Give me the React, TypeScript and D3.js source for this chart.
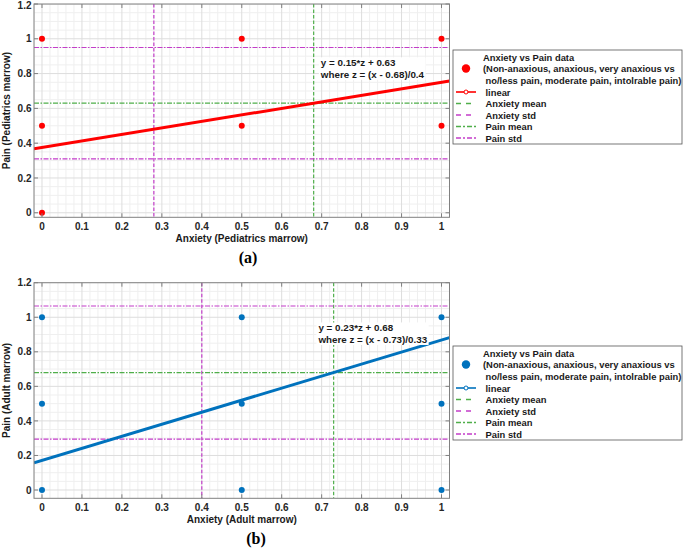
import React, { useEffect, useRef } from "react";
import * as d3 from "d3";

const W = 685;
const H = 550;

// ---- data ----
// (a) pediatrics marrow
const pedAnxiety = [0, 0, 0, 0.5, 0.5, 1, 1];
const pedPain = [1, 0.5, 0, 1, 0.5, 1, 0.5];
const pedSlope = 0.15;
const pedIntercept = 0.63;
const pedAnxMean = 0.68;
const pedAnxStd = 0.4;
const pedPainMean = 0.63;
const pedPainStd = 0.32;

// (b) adult marrow
const adultAnxiety = [0, 0, 0, 0.5, 0.5, 0.5, 1, 1, 1];
const adultPain = [1, 0.5, 0, 1, 0.5, 0, 1, 0.5, 0];
const adultSlope = 0.23;
const adultIntercept = 0.68;
const adultAnxMean = 0.73;
const adultAnxStd = 0.33;
const adultPainMean = 0.68;
const adultPainStd = 0.385;

const xTicks = [0, 0.1, 0.2, 0.3, 0.4, 0.5, 0.6, 0.7, 0.8, 0.9, 1];
const yTicks = [0, 0.2, 0.4, 0.6, 0.8, 1, 1.2];

const legendLabels = [
  "Anxiety vs Pain data",
  "(Non-anaxious, anaxious, very anaxious vs",
  " no/less pain, moderate pain, intolrable pain)",
  "linear",
  "Anxiety mean",
  "Anxiety std",
  "Pain mean",
  "Pain std",
];

const GREEN = "#4fae4a";
const MAGENTA = "#c33dc9";
const FONT = "'Liberation Sans', Arial, Helvetica, sans-serif";

interface PanelSpec {
  id: string;
  top: number;
  bottom: number;
  yMin: number;
  xs: number[];
  ys: number[];
  slope: number;
  intercept: number;
  anxMean: number;
  anxStd: number;
  painMean: number;
  painStd: number;
  color: string;
  xLabel: string;
  yLabel: string;
  tag: string;
  tagX: number;
  legendTop: number;
  noteX: number;
  noteY: number;
}

const panels: PanelSpec[] = [
  {
    id: "a",
    top: 4,
    bottom: 217.3,
    yMin: -0.026,
    xs: pedAnxiety,
    ys: pedPain,
    slope: pedSlope,
    intercept: pedIntercept,
    anxMean: pedAnxMean,
    anxStd: pedAnxStd,
    painMean: pedPainMean,
    painStd: pedPainStd,
    color: "#ff0000",
    xLabel: "Anxiety (Pediatrics marrow)",
    yLabel: "Pain (Pediatrics marrow)",
    tag: "(a)",
    tagX: 248,
    legendTop: 50,
    noteX: 0.698,
    noteY: 0.862,
  },
  {
    id: "b",
    top: 282.7,
    bottom: 498.3,
    yMin: -0.048,
    xs: adultAnxiety,
    ys: adultPain,
    slope: adultSlope,
    intercept: adultIntercept,
    anxMean: adultAnxMean,
    anxStd: adultAnxStd,
    painMean: adultPainMean,
    painStd: adultPainStd,
    color: "#0072bd",
    xLabel: "Anxiety (Adult marrow)",
    yLabel: "Pain (Adult marrow)",
    tag: "(b)",
    tagX: 256,
    legendTop: 346,
    noteX: 0.692,
    noteY: 0.938,
  },
];

const fmt = (v: number) => (v === 0 ? "0" : d3.format("~g")(v));

function drawPanel(root: d3.Selection<SVGSVGElement, unknown, null, undefined>, p: PanelSpec) {
  const left = 34;
  const right = 449.5;
  const x = d3.scaleLinear().domain([-0.02, 1.02]).range([left, right]);
  const y = d3.scaleLinear().domain([p.yMin, 1.2]).range([p.bottom, p.top]);

  const g = root.append("g");
  g.append("defs")
    .append("clipPath")
    .attr("id", `clip-${p.id}`)
    .append("rect")
    .attr("x", left)
    .attr("y", p.top)
    .attr("width", right - left)
    .attr("height", p.bottom - p.top);

  g.append("rect")
    .attr("x", left)
    .attr("y", p.top)
    .attr("width", right - left)
    .attr("height", p.bottom - p.top)
    .attr("fill", "#fff");

  // minor grid
  const minorX = d3.range(-0.02, 1.0201, 0.02).filter((v) => Math.abs((v * 10) % 1) > 0.01 && Math.abs((v * 10) % 1) < 0.99);
  const minorY = d3.range(0, 1.2001, 0.05).filter((v) => Math.abs((v * 5) % 1) > 0.01 && Math.abs((v * 5) % 1) < 0.99);
  const grid = g.append("g").attr("clip-path", `url(#clip-${p.id})`);
  grid.selectAll(".mx").data(minorX).join("line")
    .attr("x1", (d) => x(d)).attr("x2", (d) => x(d))
    .attr("y1", p.top).attr("y2", p.bottom)
    .attr("stroke", "#efefef").attr("stroke-width", 1);
  grid.selectAll(".my").data(minorY).join("line")
    .attr("y1", (d) => y(d)).attr("y2", (d) => y(d))
    .attr("x1", left).attr("x2", right)
    .attr("stroke", "#efefef").attr("stroke-width", 1);
  grid.selectAll(".gx").data(xTicks).join("line")
    .attr("x1", (d) => x(d)).attr("x2", (d) => x(d))
    .attr("y1", p.top).attr("y2", p.bottom)
    .attr("stroke", "#dddddd").attr("stroke-width", 1);
  grid.selectAll(".gy").data(yTicks).join("line")
    .attr("y1", (d) => y(d)).attr("y2", (d) => y(d))
    .attr("x1", left).attr("x2", right)
    .attr("stroke", "#dddddd").attr("stroke-width", 1);

  const plot = g.append("g").attr("clip-path", `url(#clip-${p.id})`);

  // anxiety mean / std (vertical, dashed)
  const vlines = [
    { v: p.anxMean, c: GREEN },
    { v: p.anxMean - p.anxStd, c: MAGENTA },
    { v: p.anxMean + p.anxStd, c: MAGENTA },
  ];
  plot.selectAll(".vl").data(vlines).join("line")
    .attr("x1", (d) => x(d.v)).attr("x2", (d) => x(d.v))
    .attr("y1", p.top).attr("y2", p.bottom)
    .attr("stroke", (d) => d.c).attr("stroke-width", 1.2)
    .attr("stroke-dasharray", "3.5,2");

  // pain mean / std (horizontal, dash-dot)
  const hlines = [
    { v: p.painMean, c: GREEN },
    { v: p.painMean - p.painStd, c: MAGENTA },
    { v: p.painMean + p.painStd, c: MAGENTA },
  ];
  plot.selectAll(".hl").data(hlines).join("line")
    .attr("y1", (d) => y(d.v)).attr("y2", (d) => y(d.v))
    .attr("x1", left).attr("x2", right)
    .attr("stroke", (d) => d.c).attr("stroke-width", 1.2)
    .attr("stroke-dasharray", "5,1.5,1.5,1.5");

  // regression line
  const fit = (xv: number) => p.slope * ((xv - p.anxMean) / p.anxStd) + p.intercept;
  const line = d3.line<number>().x((d) => x(d)).y((d) => y(fit(d)));
  plot.append("path")
    .datum([-0.02, 1.02])
    .attr("d", line)
    .attr("fill", "none")
    .attr("stroke", p.color)
    .attr("stroke-width", 3);

  // points
  plot.selectAll(".pt").data(p.xs).join("circle")
    .attr("cx", (d) => x(d))
    .attr("cy", (_, i) => y(p.ys[i]))
    .attr("r", 3)
    .attr("fill", p.color);

  // annotation with white background
  const note = g.append("g");
  const noteLines = [
    `y = ${p.slope}*z + ${p.intercept}`,
    `where z = (x - ${p.anxMean})/${p.anxStd}`,
  ];
  const bg = note.append("rect").attr("fill", "#fff");
  const noteText = note.append("text")
    .attr("font-family", FONT)
    .attr("font-weight", "bold")
    .attr("font-size", 9.8)
    .attr("fill", "#1a1a1a");
  noteLines.forEach((t, i) => {
    noteText.append("tspan")
      .attr("x", x(p.noteX))
      .attr("y", y(p.noteY) + 3.5 + i * 11.5)
      .text(t);
  });
  const bb = (noteText.node() as SVGTextElement).getBBox();
  bg.attr("x", bb.x - 1).attr("y", bb.y).attr("width", bb.width + 2).attr("height", bb.height);

  // box + ticks
  g.append("rect")
    .attr("x", left)
    .attr("y", p.top)
    .attr("width", right - left)
    .attr("height", p.bottom - p.top)
    .attr("fill", "none")
    .attr("stroke", "#808080")
    .attr("stroke-width", 1);

  const tl = 4;
  const ticks = g.append("g").attr("stroke", "#808080").attr("stroke-width", 1);
  xTicks.forEach((t) => {
    ticks.append("line").attr("x1", x(t)).attr("x2", x(t)).attr("y1", p.bottom).attr("y2", p.bottom - tl);
    ticks.append("line").attr("x1", x(t)).attr("x2", x(t)).attr("y1", p.top).attr("y2", p.top + tl);
  });
  yTicks.forEach((t) => {
    ticks.append("line").attr("y1", y(t)).attr("y2", y(t)).attr("x1", left).attr("x2", left + tl);
    ticks.append("line").attr("y1", y(t)).attr("y2", y(t)).attr("x1", right).attr("x2", right - tl);
  });

  const lbl = g.append("g")
    .attr("font-family", FONT)
    .attr("font-weight", "bold")
    .attr("font-size", 10)
    .attr("fill", "#262626");
  lbl.selectAll(".xt").data(xTicks).join("text")
    .attr("x", (d) => x(d))
    .attr("y", p.bottom + 13)
    .attr("text-anchor", "middle")
    .text((d) => fmt(d));
  lbl.selectAll(".yt").data(yTicks).join("text")
    .attr("x", left - 2.5)
    .attr("y", (d) => Math.max(y(d) + 3.6, 8.5))
    .attr("text-anchor", "end")
    .text((d) => fmt(d));

  g.append("text")
    .attr("x", (left + right) / 2)
    .attr("y", p.bottom + 25)
    .attr("text-anchor", "middle")
    .attr("font-family", FONT)
    .attr("font-weight", "bold")
    .attr("font-size", 10)
    .attr("fill", "#1a1a1a")
    .text(p.xLabel);

  g.append("text")
    .attr("transform", `translate(9.5,${(p.top + p.bottom) / 2}) rotate(-90)`)
    .attr("text-anchor", "middle")
    .attr("font-family", FONT)
    .attr("font-weight", "bold")
    .attr("font-size", 10)
    .attr("fill", "#1a1a1a")
    .text(p.yLabel);

  g.append("text")
    .attr("x", p.tagX)
    .attr("y", p.bottom + 46)
    .attr("text-anchor", "middle")
    .attr("font-family", "'Liberation Serif', 'Times New Roman', serif")
    .attr("font-weight", "bold")
    .attr("font-size", 16)
    .attr("fill", "#000")
    .text(p.tag);

  // legend
  const lx = 453;
  const lw = 229;
  const lt = p.legendTop;
  const lg = g.append("g");
  lg.append("rect")
    .attr("x", lx).attr("y", lt).attr("width", lw).attr("height", 94)
    .attr("fill", "#fff").attr("stroke", "#555").attr("stroke-width", 0.8);
  const rows = [7, 18.5, 30, 42, 53.5, 65, 76.5, 88];
  const textX = [483, 483, 485.5, 485.5, 485.5, 485.5, 485.5, 485.5];
  lg.selectAll(".lt").data(legendLabels).join("text")
    .attr("x", (_, i) => textX[i])
    .attr("y", (_, i) => lt + rows[i])
    .attr("dominant-baseline", "central")
    .attr("font-family", FONT)
    .attr("font-weight", "bold")
    .attr("font-size", 9.4)
    .attr("fill", "#1a1a1a")
    .text((d) => d.trim());
  const sx0 = 456;
  const sx1 = 476;
  lg.append("circle").attr("cx", (sx0 + sx1) / 2).attr("cy", lt + rows[1]).attr("r", 4.2).attr("fill", p.color);
  lg.append("line").attr("x1", sx0).attr("x2", sx1).attr("y1", lt + rows[3]).attr("y2", lt + rows[3])
    .attr("stroke", p.color).attr("stroke-width", 1.6);
  lg.append("circle").attr("cx", (sx0 + sx1) / 2).attr("cy", lt + rows[3]).attr("r", 2)
    .attr("fill", "#fff").attr("stroke", p.color).attr("stroke-width", 1);
  const samples = [
    { c: GREEN, dash: "5,5" },
    { c: MAGENTA, dash: "5,5" },
    { c: GREEN, dash: "5,2,2,2" },
    { c: MAGENTA, dash: "5,2,2,2" },
  ];
  samples.forEach((s, i) => {
    lg.append("line")
      .attr("x1", sx0).attr("x2", sx1)
      .attr("y1", lt + rows[4 + i]).attr("y2", lt + rows[4 + i])
      .attr("stroke", s.c).attr("stroke-width", 1.3)
      .attr("stroke-dasharray", s.dash);
  });
}

export default function App() {
  const ref = useRef<SVGSVGElement>(null);

  useEffect(() => {
    if (!ref.current) return;
    const svg = d3.select(ref.current);
    svg.selectAll("*").remove();
    svg.append("rect").attr("width", W).attr("height", H).attr("fill", "#fff");
    panels.forEach((p) => drawPanel(svg, p));
  }, []);

  return (
    <svg
      ref={ref}
      width={W}
      height={H}
      style={{ position: "absolute", left: 0, top: 0, display: "block" }}
    />
  );
}
